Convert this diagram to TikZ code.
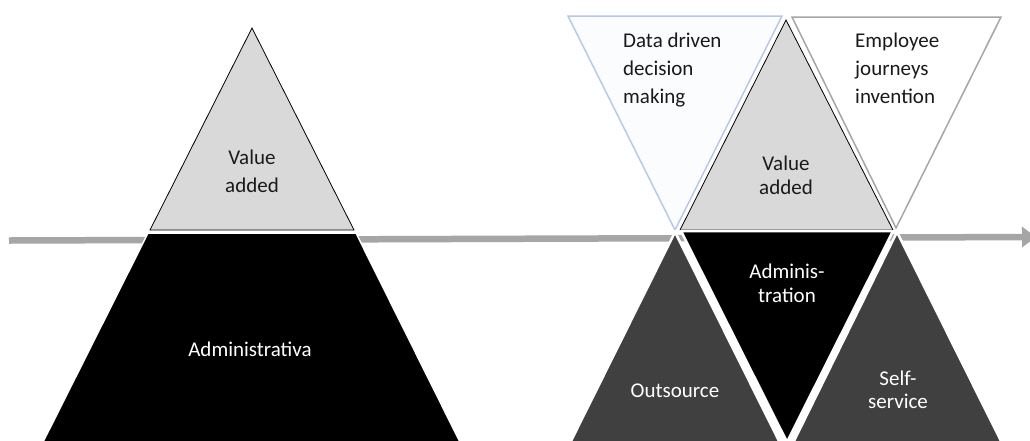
\documentclass[tikz,border=0pt]{standalone}
\usepackage{fontspec}
\setmainfont{Carlito}
\usetikzlibrary{arrows.meta}
\definecolor{lgray}{HTML}{D9D9D9}
\definecolor{dgray}{HTML}{404040}
\definecolor{axisgray}{HTML}{A6A6A6}
\definecolor{lblue}{HTML}{B4C7E7}
\definecolor{paleblue}{HTML}{FBFCFE}
\definecolor{darktext}{HTML}{1A1A1A}
\tikzset{
  lab/.style={inner sep=0pt, font=\fontsize{21}{28}\selectfont, text=darktext, align=center},
  wlab/.style={lab, text=white},
  lightface/.style={fill=lgray, draw=black, line width=0.8pt, line join=miter},
  darkface/.style={draw=white, line width=2.5pt, line join=miter},
}
\begin{document}
\begin{tikzpicture}[x=1pt, y=-1pt]
\useasboundingbox (0,0) rectangle (1030,440);
\clip (0,0) rectangle (1030,440);
\fill[white] (0,0) rectangle (1030,440);

% axis
\coordinate (axs) at (9,240.5);
\coordinate (axe) at (1036,237);
\draw[axisgray, line width=6.5pt, -{Triangle[length=14pt, width=20pt]}] (axs) -- (axe);

% left pyramid
\filldraw[lightface] (252,28) -- (150,230) -- (354,230) -- cycle;
\filldraw[fill=black, draw=white, line width=1.5pt] (148,233) -- (356,233) -- (460,442) -- (43,442) -- cycle;

% right composition
\filldraw[fill=paleblue, draw=lblue, line width=1.5pt] (568,16) -- (782,16) -- (675,230) -- cycle;
\filldraw[fill=white, draw=axisgray, line width=1.5pt] (792,17) -- (1001,17) -- (896,228) -- cycle;
\filldraw[lightface] (786,20) -- (680,230) -- (893,230) -- cycle;
\filldraw[darkface, fill=black] (681,231) -- (893,231) -- (787,442) -- cycle;
\filldraw[darkface, fill=dgray] (675,232) -- (570,443) -- (780,443) -- cycle;
\filldraw[darkface, fill=dgray] (897,232) -- (793,443) -- (1002,443) -- cycle;

% labels
\node[lab] (lva) at (252,171) {Value\\added};
\node[wlab] (ladm) at (250,349) {Administrativa};
\node[lab, align=left, anchor=west] (ddd) at (623,70) {Data driven\\decision\\making};
\node[lab, align=left, anchor=west] (eji) at (855,68) {Employee\\journeys\\invention};
\node[lab, font=\fontsize{21}{24}\selectfont] (rva) at (786,175) {Value\\added};
\node[wlab, font=\fontsize{21}{24}\selectfont] (radm) at (787,283) {Adminis-\\tration};
\node[wlab] (out) at (675,391) {Outsource};
\node[wlab, font=\fontsize{21}{23}\selectfont] (self) at (898,390) {Self-\\service};
\end{tikzpicture}
\end{document}
